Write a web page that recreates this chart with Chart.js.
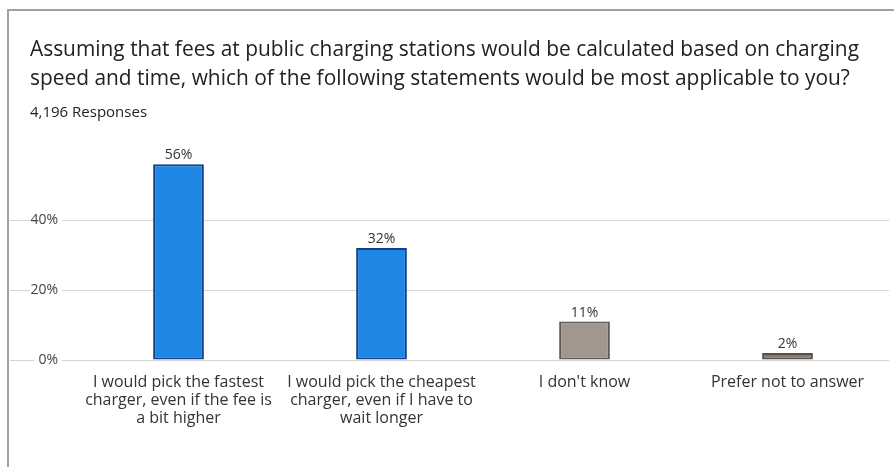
<!DOCTYPE html>
<html><head><meta charset="utf-8">
<script src="https://cdn.jsdelivr.net/npm/chart.js@4"></script>
<style>
html,body{margin:0;padding:0;background:#fff;}
#wrap{position:relative;width:894px;height:467px;overflow:hidden;}
#frame{position:absolute;left:7px;top:9px;width:900px;height:470px;border-left:2px solid #a0a0a0;border-top:2px solid #a0a0a0;}
canvas{position:absolute;left:0;top:0;}
</style></head><body>
<div id="wrap"><div id="frame"></div><canvas id="c" width="894" height="467"></canvas></div>
<script>
const categories = [
  ["I would pick the fastest", "charger, even if the fee is", "a bit higher"],
  ["I would pick the cheapest", "charger, even if I have to", "wait longer"],
  ["I don't know"],
  ["Prefer not to answer"]
];
const values = [56, 32, 11, 2];
const fillColors = ["#1e86e3", "#1e86e3", "#a1978f", "#857b74"];
const borderColors = ["#123f87", "#123f87", "#625952", "#564e48"];
const yTicks = [0, 20, 40];
const titleLines = [
  "Assuming that fees at public charging stations would be calculated based on charging",
  "speed and time, which of the following statements would be most applicable to you?"
];
const subtitleText = "4,196 Responses";

const FONT = "'Open Sans', sans-serif";

const valueLabels = {
  id: 'valueLabels',
  afterDatasetsDraw(chart) {
    const ctx = chart.ctx;
    const meta = chart.getDatasetMeta(0);
    ctx.save();
    ctx.font = "14px " + FONT;
    ctx.fillStyle = '#333';
    ctx.textAlign = 'center';
    ctx.textBaseline = 'bottom';
    meta.data.forEach((bar, i) => {
      ctx.fillText(values[i] + '%', bar.x, bar.y - 2);
    });
    ctx.restore();
  }
};

new Chart(document.getElementById('c'), {
  type: 'bar',
  data: {
    labels: categories,
    datasets: [{
      data: values,
      backgroundColor: fillColors,
      borderColor: borderColors,
      borderWidth: 2,
      borderSkipped: false,
      categoryPercentage: 1,
      barPercentage: 0.25
    }]
  },
  options: {
    responsive: false,
    animation: false,
    devicePixelRatio: 1,
    layout: { padding: { left: 30, right: 5, top: 0, bottom: 0 } },
    plugins: {
      legend: { display: false },
      tooltip: { enabled: false },
      title: {
        display: true, text: titleLines, align: 'start', color: '#222',
        font: { family: FONT, size: 20.9, weight: 'normal', lineHeight: 1.38 },
        padding: { top: 36, bottom: 4 }
      },
      subtitle: {
        display: true, text: subtitleText, align: 'start', color: '#222',
        font: { family: FONT, size: 15, weight: 'normal', lineHeight: 1.3 },
        padding: { top: 5, bottom: 35 }
      }
    },
    scales: {
      x: {
        grid: { display: false },
        border: { display: false },
        ticks: { color: '#333', font: { family: FONT, size: 16, lineHeight: 1.1 }, padding: 6, maxRotation: 0, autoSkip: false },
        afterFit(scale) { scale.height = 107; }
      },
      y: {
        min: 0, max: 58,
        afterBuildTicks(scale) { scale.ticks = yTicks.map(v => ({ value: v })); },
        afterFit(scale) { scale.width = 47; },
        border: { display: false },
        grid: { color: '#d4d4d4', lineWidth: 1, tickLength: 67, drawTicks: true },
        ticks: {
          callback: v => v + '%', padding: -48, color: '#444',
          font: { family: FONT, size: 14 },
          showLabelBackdrop: true, backdropColor: '#fff',
          backdropPadding: { left: 4, right: 4, top: 1, bottom: 1 }
        }
      }
    }
  },
  plugins: [valueLabels]
});
</script>
</body></html>
